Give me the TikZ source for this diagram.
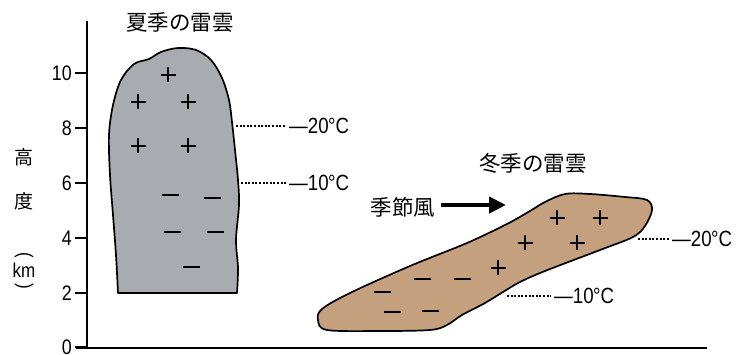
\documentclass[tikz,border=0pt]{standalone}
\usepackage{fontspec}
\setmainfont{Liberation Sans}
\newfontfamily\jpfont{Noto Sans CJK JP}
\newfontfamily\numfont[FakeStretch=0.85]{Liberation Sans}
\usetikzlibrary{arrows.meta}

\definecolor{summergray}{RGB}{168,171,176}
\definecolor{winterbrown}{RGB}{196,160,126}

\tikzset{
  axisline/.style={line width=2.6pt, line cap=butt},
  tickline/.style={line width=1.6pt},
  cloudline/.style={line width=1.7pt, line join=round},
  chargestroke/.style={line width=2.2pt},
  dotline/.style={line width=1.1pt, dash pattern=on 2pt off 1.6pt, shorten >=3pt},
  jptext/.style={inner sep=0pt, font=\jpfont\fontsize{21.5}{22}\selectfont},
  axistext/.style={inner sep=0pt, font=\jpfont\fontsize{19}{19}\selectfont},
  ticklabel/.style={anchor=east, inner sep=0pt, font=\numfont\fontsize{21}{21}\selectfont},
  templabel/.style={anchor=west, inner sep=0pt, font=\numfont\fontsize{22}{22}\selectfont},
  plussign/.pic={\draw[chargestroke] (-7.5,0) -- (7.5,0) (0,-7.5) -- (0,7.5);},
  minussign/.pic={\draw[chargestroke] (-8.5,0) -- (8.5,0);},
}

\begin{document}
\begin{tikzpicture}[x=1pt, y={(0pt,-1pt)}]
\useasboundingbox (0,0) rectangle (748,355);

% ---------- summer thundercloud ----------
\draw[cloudline, fill=summergray]
  plot[smooth, tension=0.55] coordinates {
    (237,293) (238,268) (236,240) (239,205) (238,180) (235,150)
    (232,122) (229,100) (222,78) (211,60) (196,50) (178,48)
    (161,52) (149,59) (134,64) (121,80) (113,105) (109,135)
    (110,175) (113,215) (116,255) (118,293)}
  -- cycle;

% ---------- winter thundercloud ----------
\draw[cloudline, fill=winterbrown]
  plot[smooth cycle, tension=0.55] coordinates {
    (318,320) (327,330) (380,331) (430,330) (447,325) (462,315)
    (485,303) (503,292) (520,282) (545,271) (600,250) (633,237)
    (645,226) (652,210) (647,200) (625,197) (590,194) (565,194)
    (545,202) (530,211) (507,224) (467,243) (410,266) (350,293)
    (322,309)};

% ---------- axes ----------
\draw[axisline] (87,21) -- (87,349);
\draw[axisline] (76,348) -- (707,348);
\foreach \v/\yy in {0/347, 2/293, 4/238, 6/183, 8/128, 10/73}{
  \draw[tickline] (75,\yy) -- (87,\yy);
  \node[ticklabel] (tick\v) at (72,\yy) {\v};
}

% axis title, set vertically
\node[axistext] (ylab1) at (24,157) {高};
\node[axistext] (ylab2) at (24,201) {度};
\node[inner sep=0pt, rotate=-90, font=\numfont\fontsize{20}{20}\selectfont] (ylab3) at (24,255) {(};
\node[inner sep=0pt, font=\numfont\fontsize{20}{20}\selectfont] (ylab4) at (24,270) {km};
\node[inner sep=0pt, rotate=-90, font=\numfont\fontsize{20}{20}\selectfont] (ylab5) at (24,286) {)};

% ---------- titles ----------
\node[jptext] (summertitle) at (180,22) {夏季の雷雲};
\node[jptext] (wintertitle) at (533,163) {冬季の雷雲};

% ---------- seasonal wind ----------
\node[jptext] (wind) at (403,207) {季節風};
\coordinate (windend) at (506,205);
\draw[line width=4.5pt, -{Triangle[length=17pt, width=16pt]}]
  ([xshift=6pt, yshift=2pt]wind.east) -- (windend);

% ---------- charges, summer ----------
\foreach \px/\py in {168/75, 138/102, 188/102, 138/146, 188/146}
  \pic at (\px,\py) {plussign};
\foreach \px/\py in {170/195, 212/198, 172/232, 215/232, 191/267}
  \pic at (\px,\py) {minussign};

% ---------- charges, winter ----------
\foreach \px/\py in {557/218, 600/218, 525/243, 577/243, 498/268}
  \pic at (\px,\py) {plussign};
\foreach \px/\py in {422/279, 462/279, 382/292, 392/312, 430/311}
  \pic at (\px,\py) {minussign};

% ---------- isotherm levels ----------
\node[templabel] (s20) at (289,126) {—20\kern-0.5pt°C};
\node[templabel] (s10) at (289,183) {—10\kern-0.5pt°C};
\node[templabel] (w20) at (672,239) {—20\kern-0.5pt°C};
\node[templabel] (w10) at (554,296) {—10\kern-0.5pt°C};
\coordinate (s20c) at (236,126);
\coordinate (s10c) at (241,183);
\coordinate (w20c) at (638,239);
\coordinate (w10c) at (507,296);
\draw[dotline] (s20c) -- (s20.west);
\draw[dotline] (s10c) -- (s10.west);
\draw[dotline] (w20c) -- (w20.west);
\draw[dotline] (w10c) -- (w10.west);

\end{tikzpicture}
\end{document}
